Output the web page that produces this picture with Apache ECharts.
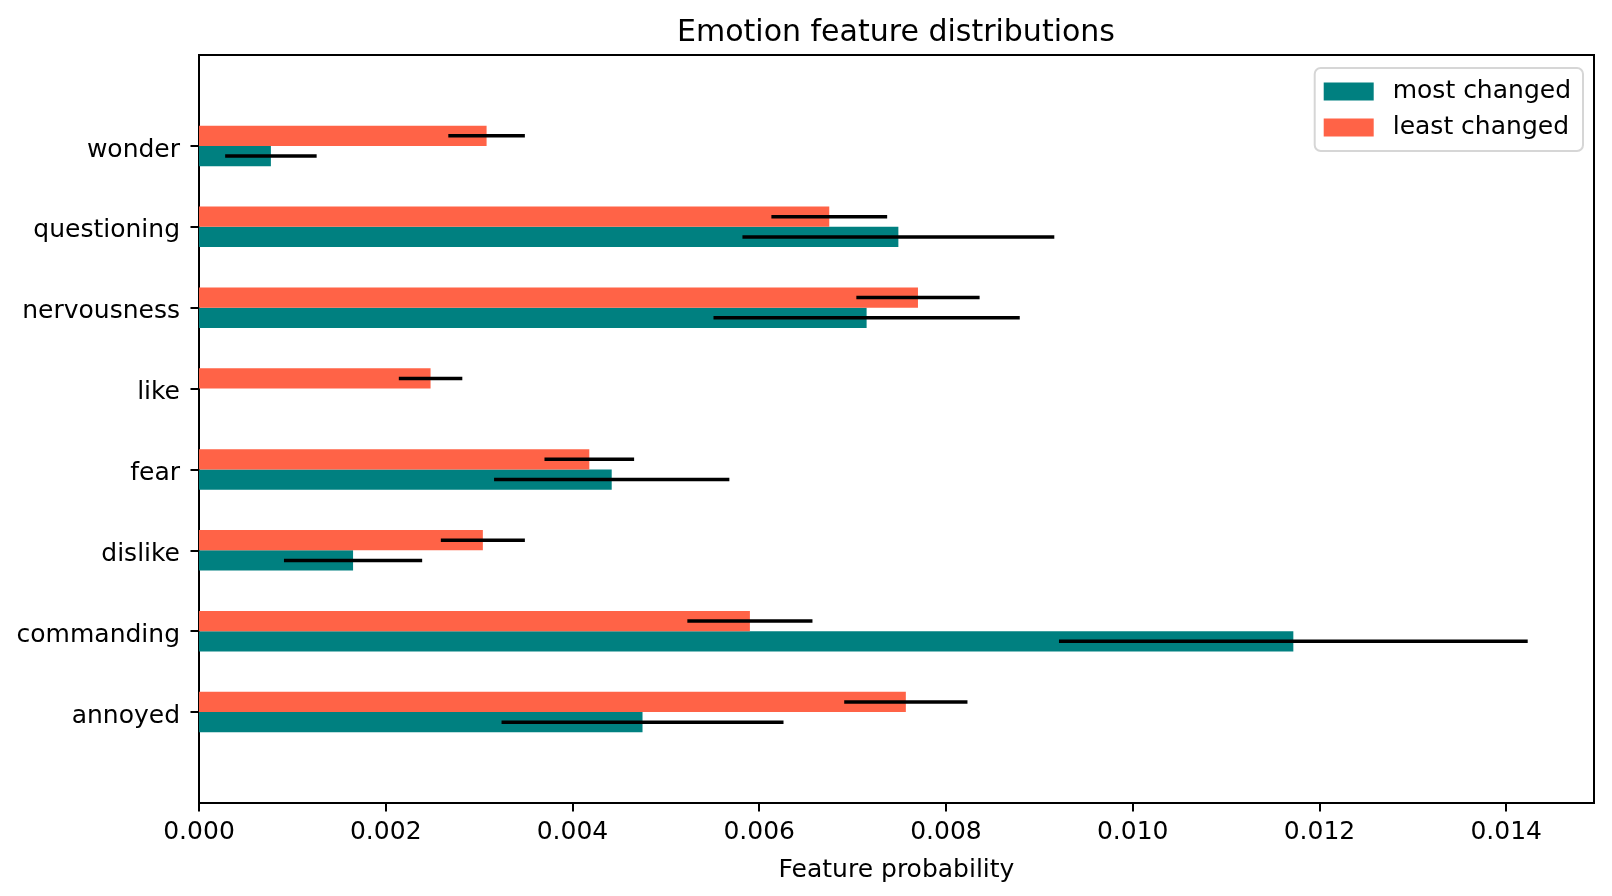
<!DOCTYPE html>
<html>
<head>
<meta charset="utf-8">
<script src="https://cdn.jsdelivr.net/npm/echarts@6/dist/echarts.min.js"></script>
<style>
  html, body { margin: 0; padding: 0; background: #fff; }
  #chart { width: 1612px; height: 896px; }
</style>
</head>
<body>
<div id="chart"></div>
<script>
// categories from bottom (y = 0) to top
const categories = ['annoyed', 'commanding', 'dislike', 'fear', 'like', 'nervousness', 'questioning', 'wonder'];
const mostChanged = [0.00475, 0.01172, 0.00165, 0.00442, 0, 0.00715, 0.00749, 0.00077];
const mostChangedErr = [0.00151, 0.00251, 0.00074, 0.00126, 0, 0.00164, 0.00167, 0.00049];
const leastChanged = [0.00757, 0.00590, 0.00304, 0.00418, 0.00248, 0.00770, 0.00675, 0.00308];
const leastChangedErr = [0.00066, 0.00067, 0.00045, 0.00048, 0.00034, 0.00066, 0.00062, 0.00041];
const xTicks = [0, 0.002, 0.004, 0.006, 0.008, 0.010, 0.012, 0.014];

const font = 'DejaVu Sans';
const barH = 0.25;
// matplotlib centres the label glyphs a little lower than echarts does
const labelNudge = 0.05;

function toData(vals, errs) {
  return vals.map((v, i) => [v, i, errs[i]]);
}

// rect between idx+lo and idx+hi on the category value axis
function barItem(lo, hi) {
  return function (params, api) {
    const idx = api.value(1);
    const p0 = api.coord([0, idx + hi]);
    const p1 = api.coord([api.value(0), idx + lo]);
    return {
      type: 'rect',
      shape: { x: p0[0], y: p0[1], width: p1[0] - p0[0], height: p1[1] - p0[1] },
      style: api.style()
    };
  };
}

function errItem(off) {
  return function (params, api) {
    const idx = api.value(1), v = api.value(0), e = api.value(2);
    if (!e) return null;
    const a = api.coord([v - e, idx + off]);
    const b = api.coord([v + e, idx + off]);
    return {
      type: 'line',
      shape: { x1: a[0], y1: a[1], x2: b[0], y2: b[1] },
      style: { stroke: '#000', lineWidth: 3.5 }
    };
  };
}

const chart = echarts.init(document.getElementById('chart'));
chart.setOption({
  animation: false,
  backgroundColor: '#fff',
  textStyle: { fontFamily: font },
  title: {
    text: 'Emotion feature distributions',
    left: 677,
    top: 18,
    padding: 0,
    textStyle: { fontFamily: font, fontSize: 30, fontWeight: 'normal', color: '#000' }
  },
  legend: {
    orient: 'vertical',
    right: 29,
    top: 68,
    data: ['most changed', 'least changed'],
    icon: 'rect',
    itemWidth: 50,
    itemHeight: 18,
    itemGap: 11,
    padding: [11, 12, 11, 9],
    backgroundColor: '#fff',
    borderColor: '#d6d6d6',
    borderWidth: 2,
    borderRadius: 6,
    textStyle: { fontFamily: font, fontSize: 25, color: '#000', padding: [0, 0, 0, 14] }
  },
  grid: {
    left: 199,
    right: 18,
    top: 55,
    bottom: 93,
    show: true,
    borderColor: '#000',
    borderWidth: 2
  },
  xAxis: {
    type: 'value',
    min: 0,
    max: 0.01494,
    name: 'Feature probability',
    nameLocation: 'middle',
    nameGap: 55,
    nameTextStyle: { fontFamily: font, fontSize: 25, color: '#000' },
    axisLine: { onZero: false, lineStyle: { color: '#000', width: 2 } },
    axisTick: { show: true, length: 8.5, lineStyle: { color: '#000', width: 2 }, customValues: xTicks },
    axisLabel: {
      fontFamily: font, fontSize: 25, color: '#000', margin: 17,
      customValues: xTicks,
      formatter: v => v.toFixed(3)
    },
    splitLine: { show: false }
  },
  yAxis: {
    type: 'value',
    min: -1.125,
    max: 8.125,
    axisLine: { show: true, onZero: false, lineStyle: { color: '#000', width: 2 } },
    axisTick: { show: true, length: 8.5, lineStyle: { color: '#000', width: 2 }, customValues: categories.map((c, i) => i) },
    axisLabel: {
      fontFamily: font, fontSize: 25, color: '#000', margin: 19,
      customValues: categories.map((c, i) => i - labelNudge),
      formatter: v => categories[Math.round(v)]
    },
    splitLine: { show: false }
  },
  series: [
    {
      name: 'most changed',
      type: 'custom',
      renderItem: barItem(-barH, 0),
      itemStyle: { color: '#008080' },
      encode: { x: 0, y: 1 },
      data: toData(mostChanged, mostChangedErr)
    },
    {
      name: 'most changed err',
      type: 'custom',
      renderItem: errItem(-barH / 2),
      encode: { x: 0, y: 1 },
      data: toData(mostChanged, mostChangedErr),
      z: 3
    },
    {
      name: 'least changed',
      type: 'custom',
      renderItem: barItem(0, barH),
      itemStyle: { color: '#ff6347' },
      encode: { x: 0, y: 1 },
      data: toData(leastChanged, leastChangedErr)
    },
    {
      name: 'least changed err',
      type: 'custom',
      renderItem: errItem(barH / 2),
      encode: { x: 0, y: 1 },
      data: toData(leastChanged, leastChangedErr),
      z: 3
    }
  ]
});
</script>
</body>
</html>
